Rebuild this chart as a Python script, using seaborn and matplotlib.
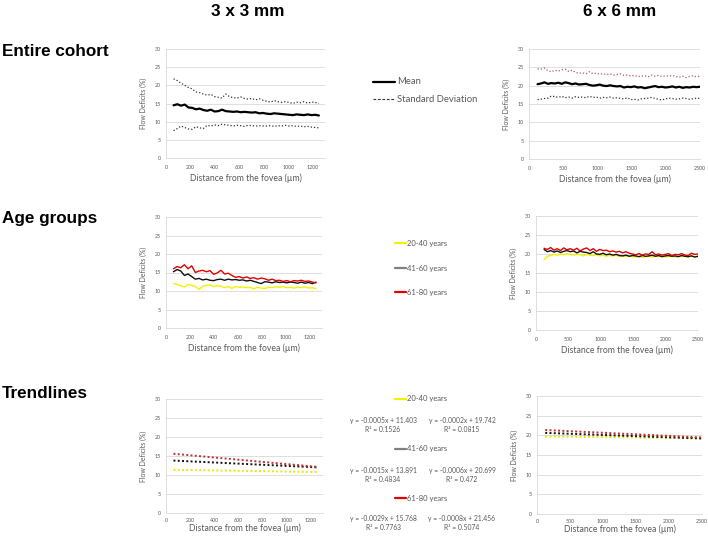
import numpy as np
import pandas as pd
import matplotlib
matplotlib.use("Agg")
import matplotlib.pyplot as plt
from matplotlib.lines import Line2D
import seaborn as sns

# ---------------- data ----------------
dist_3x3 = np.linspace(62, 1250, 40)
dist_6x6 = np.linspace(125, 2500, 48)

mean_3x3 = [14.5, 14.8, 14.4, 14.7, 13.9, 13.8, 13.4, 13.6, 13.2, 13.0, 13.3, 12.8, 12.9, 13.3, 12.9, 12.8,
            12.7, 12.8, 12.6, 12.7, 12.6, 12.5, 12.6, 12.3, 12.4, 12.2, 12.1, 12.3, 12.2, 12.1, 12.0, 11.9,
            11.8, 12.0, 11.9, 11.8, 12.0, 11.8, 11.9, 11.7]
sd_hi_3x3 = [21.8, 21.3, 20.6, 20.0, 19.4, 19.0, 18.2, 18.0, 17.6, 17.3, 17.5, 16.9, 16.7, 16.5, 17.6, 16.9,
             16.6, 16.5, 16.8, 16.4, 16.2, 16.4, 16.0, 16.3, 15.9, 15.6, 15.4, 15.8, 15.5, 15.3, 15.5, 15.3,
             15.0, 15.4, 15.2, 15.5, 15.1, 15.4, 15.3, 15.0]
sd_lo_3x3 = [7.5, 8.1, 8.8, 8.4, 8.0, 7.9, 8.6, 8.3, 8.1, 9.0, 8.8, 9.1, 8.9, 9.3, 9.1, 9.0,
             8.8, 9.0, 8.9, 8.7, 9.0, 8.9, 8.8, 8.9, 8.8, 8.8, 8.9, 8.7, 8.9, 8.8, 9.0, 8.8,
             8.9, 8.7, 8.8, 8.6, 8.7, 8.5, 8.4, 8.3]

mean_6x6 = [20.4, 20.6, 20.9, 20.5, 20.7, 20.6, 20.8, 20.5, 20.9, 20.7, 20.4, 20.6, 20.3, 20.4, 20.5, 20.2,
            20.0, 20.1, 20.3, 20.0, 19.9, 20.1, 19.9, 19.8, 19.9, 19.5, 19.7, 19.6, 19.8, 19.5, 19.6, 19.3,
            19.5, 19.7, 19.9, 19.6, 19.7, 19.5, 19.6, 19.8, 19.5, 19.7, 19.4, 19.6, 19.5, 19.7, 19.6, 19.7]
sd_hi_6x6 = [24.6, 24.5, 24.8, 24.1, 23.8, 24.2, 24.0, 24.3, 24.5, 23.9, 24.2, 23.6, 23.4, 23.5, 23.2, 23.8,
             23.3, 23.4, 23.1, 23.3, 23.0, 23.2, 22.9, 23.0, 23.2, 22.8, 22.9, 22.6, 22.8, 22.5, 22.6, 22.7,
             22.4, 22.9, 22.6, 22.8, 22.5, 22.7, 22.6, 22.8, 22.5, 22.3, 22.6, 22.2, 22.5, 22.7, 22.4, 22.6]
sd_lo_6x6 = [16.2, 16.3, 16.5, 16.6, 17.2, 17.0, 16.8, 17.1, 16.7, 16.9, 16.6, 17.0, 16.8, 16.9, 16.7, 17.1,
             16.8, 16.9, 16.6, 16.8, 16.7, 16.9, 16.6, 16.7, 16.5, 16.4, 16.7, 16.2, 16.3, 16.1, 16.4, 16.5,
             16.6, 16.8, 16.5, 16.3, 16.1, 16.4, 16.6, 16.5, 16.3, 16.4, 16.6, 16.5, 16.3, 16.4, 16.6, 16.5]

age_groups = ["20-40 years", "41-60 years", "61-80 years"]

age20_3x3 = [12.0, 11.8, 11.4, 11.1, 11.8, 11.5, 11.2, 10.4, 11.3, 11.5, 11.6, 11.2, 11.4, 11.3, 10.9, 11.2,
             10.7, 11.2, 11.0, 11.1, 10.9, 11.0, 10.6, 11.0, 10.8, 10.7, 11.0, 10.9, 11.1, 11.0, 11.2, 10.9,
             11.0, 10.8, 11.0, 10.9, 11.1, 10.8, 10.9, 10.6]
age41_3x3 = [15.2, 15.8, 15.4, 14.2, 14.6, 13.9, 13.2, 13.4, 13.0, 13.2, 12.9, 12.8, 13.1, 13.2, 12.9, 13.2,
             13.0, 13.1, 12.9, 13.0, 12.7, 12.9, 12.6, 12.3, 12.0, 12.5, 12.4, 12.2, 12.5, 12.3, 12.4, 12.2,
             12.4, 12.3, 12.1, 12.4, 12.1, 12.3, 12.0, 12.4]
age61_3x3 = [16.0, 16.6, 16.3, 17.1, 16.0, 16.8, 15.0, 15.4, 15.6, 15.2, 15.5, 14.5, 14.9, 15.6, 14.6, 14.8,
             14.2, 13.7, 13.9, 13.5, 13.8, 13.4, 13.6, 13.2, 13.5, 13.3, 12.9, 13.2, 12.8, 12.9, 12.6, 12.8,
             12.5, 12.8, 12.7, 12.9, 12.6, 12.7, 12.4, 12.2]

age20_6x6 = [18.5, 19.4, 19.6, 19.9, 19.7, 20.0, 19.8, 20.1, 19.9, 19.7, 20.0, 19.8, 19.5, 19.9, 19.7, 19.6,
             19.8, 19.5, 19.7, 19.4, 19.6, 19.5, 19.7, 19.3, 19.6, 19.4, 19.5, 19.3, 19.2, 19.4, 19.1, 19.3,
             19.4, 19.2, 19.5, 19.3, 19.4, 19.2, 19.3, 19.5, 19.2, 19.4, 19.3, 19.4, 19.2, 19.5, 19.3, 19.4]
age41_6x6 = [21.2, 20.6, 20.9, 20.5, 20.8, 20.4, 20.7, 20.9, 20.6, 20.8, 20.3, 20.7, 20.5, 20.4, 20.1, 20.6,
             20.0, 19.9, 20.2, 19.8, 20.0, 19.7, 19.9, 19.6, 19.5, 19.7, 19.4, 19.6, 19.5, 19.3, 19.6, 19.4,
             19.5, 19.7, 19.4, 19.6, 19.3, 19.5, 19.6, 19.4, 19.5, 19.3, 19.6, 19.4, 19.3, 19.5, 19.2, 19.4]
age61_6x6 = [21.5, 21.2, 21.7, 21.0, 21.4, 20.9, 21.6, 21.1, 21.4, 21.0, 21.5, 20.8, 21.3, 21.6, 20.9, 21.4,
             20.7, 21.2, 20.9, 21.0, 20.6, 20.8, 20.5, 20.7, 20.3, 20.6, 20.2, 20.0, 19.8, 20.1, 19.7, 20.0,
             19.9, 20.6, 19.8, 20.0, 19.7, 19.9, 20.1, 19.6, 19.9, 19.8, 20.1, 19.7, 19.6, 20.2, 19.9, 20.0]

# trendline equations (slope, intercept, R^2) as printed on the chart
slopes_3x3 = [-0.0005, -0.0015, -0.0029]
intercepts_3x3 = [11.403, 13.891, 15.768]
r2_3x3 = ["0.1526", "0.4834", "0.7763"]
slopes_6x6 = [-0.0002, -0.0006, -0.0008]
intercepts_6x6 = [19.742, 20.699, 21.456]
r2_6x6 = ["0.0815", "0.472", "0.5074"]

y_ticks = [0, 5, 10, 15, 20, 25, 30]
x_ticks_3x3 = [0, 200, 400, 600, 800, 1000, 1200]
x_ticks_6x6 = [0, 500, 1000, 1500, 2000, 2500]

# ---------------- style ----------------
sns.set_style("white")
plt.rcParams["font.family"] = ["Lato", "DejaVu Sans"]

W, H = 708, 536
fig = plt.figure(figsize=(W / 100, H / 100), dpi=100)

GREY_TXT = "#595959"
GRID = "#d9d9d9"
YELLOW = "#f2f200"
RED = "#e00000"
age_colors = {"20-40 years": YELLOW, "41-60 years": "#111111", "61-80 years": RED}
trend_colors = {"20-40 years": "#e8e800", "41-60 years": "#111111", "61-80 years": "#c03030"}


def px_axes(x0, y0, x1, y1):
    return fig.add_axes([x0 / W, 1 - y1 / H, (x1 - x0) / W, (y1 - y0) / H])


def style_ax(ax, xmax, xticks, xpad, lpad):
    ax.set_xlim(0, xmax)
    ax.set_ylim(0, 30)
    ax.set_yticks(y_ticks)
    ax.set_xticks(xticks)
    ax.grid(axis="y", color=GRID, lw=0.6)
    ax.grid(axis="x", visible=False)
    for s in ["top", "right"]:
        ax.spines[s].set_visible(False)
    for s in ["left", "bottom"]:
        ax.spines[s].set_color(GRID)
        ax.spines[s].set_linewidth(0.6)
    ax.tick_params(axis="y", length=0, labelsize=3.8, labelcolor=GREY_TXT, pad=4)
    ax.tick_params(axis="x", length=0, labelsize=3.8, labelcolor=GREY_TXT, pad=xpad)
    ax.set_xlabel("Distance from the fovea (µm)", fontsize=6.2, color=GREY_TXT, labelpad=lpad)
    ax.set_ylabel("Flow Deficits (%)", fontsize=5.0, color=GREY_TXT, labelpad=5)
    if ax.get_legend() is not None:
        ax.get_legend().remove()


axes = {
    (0, 0): px_axes(166, 49, 325, 158),
    (0, 1): px_axes(529, 49, 700, 159),
    (1, 0): px_axes(166, 217, 322, 328),
    (1, 1): px_axes(536, 216, 698, 330),
    (2, 0): px_axes(166, 399, 323, 513),
    (2, 1): px_axes(537, 396, 702, 514),
}

# ---- Row 1: entire cohort ----
for col, (d, m, hi, lo, hicol) in enumerate([
        (dist_3x3, mean_3x3, sd_hi_3x3, sd_lo_3x3, "#333333"),
        (dist_6x6, mean_6x6, sd_hi_6x6, sd_lo_6x6, "#b85a5a")]):
    ax = axes[(0, col)]
    df = pd.DataFrame({"dist": d, "mean": m, "hi": hi, "lo": lo})
    sns.lineplot(data=df, x="dist", y="mean", ax=ax, color="black", lw=1.6)
    sns.lineplot(data=df, x="dist", y="hi", ax=ax, color=hicol, lw=0.9, linestyle=(0, (1, 1.6)))
    sns.lineplot(data=df, x="dist", y="lo", ax=ax, color="#333333", lw=0.9, linestyle=(0, (1, 1.6)))

# ---- Row 2: age groups ----
for col, (d, vals) in enumerate([
        (dist_3x3, [age20_3x3, age41_3x3, age61_3x3]),
        (dist_6x6, [age20_6x6, age41_6x6, age61_6x6])]):
    ax = axes[(1, col)]
    df = pd.concat([pd.DataFrame({"dist": d, "fd": v, "age": g}) for g, v in zip(age_groups, vals)])
    sns.lineplot(data=df, x="dist", y="fd", hue="age", palette=age_colors, ax=ax, lw=1.0, legend=False)

# ---- Row 3: trendlines ----
for col, (d, sl, ic) in enumerate([
        (dist_3x3, slopes_3x3, intercepts_3x3),
        (dist_6x6, slopes_6x6, intercepts_6x6)]):
    ax = axes[(2, col)]
    ends = np.array([d[0], d[-1]])
    df = pd.concat([pd.DataFrame({"dist": ends, "fd": s * ends + b, "age": g})
                    for g, s, b in zip(age_groups, sl, ic)])
    for g in age_groups:
        sub = df[df.age == g]
        sns.lineplot(data=sub, x="dist", y="fd", ax=ax, color=trend_colors[g],
                     lw=1.4, linestyle=(0, (1, 1.2)))

for (r, c), ax in axes.items():
    xpad, lpad = (5, 2.5) if r < 2 else (3.5, 0.5)
    if c == 0:
        style_ax(ax, 1300, x_ticks_3x3, xpad, lpad)
    else:
        style_ax(ax, 2500, x_ticks_6x6, xpad, lpad)

# ---------------- titles ----------------
title_kw = dict(fontsize=12.3, fontweight="bold", family=["Liberation Sans", "DejaVu Sans"], color="black")
fig.text(248 / W, 1 - 12 / H, "3 x 3 mm", ha="center", va="center", **title_kw)
fig.text(620 / W, 1 - 12 / H, "6 x 6 mm", ha="center", va="center", **title_kw)
fig.text(2 / W, 1 - 51 / H, "Entire cohort", ha="left", va="center", **title_kw)
fig.text(2 / W, 1 - 219 / H, "Age groups", ha="left", va="center", **title_kw)
fig.text(2 / W, 1 - 394 / H, "Trendlines", ha="left", va="center", **title_kw)

# ---------------- middle legends ----------------
def fig_line(x0, x1, y, color, lw=1.5, ls="-"):
    fig.add_artist(Line2D([x0 / W, x1 / W], [1 - y / H, 1 - y / H], color=color, lw=lw, linestyle=ls))


def fig_txt(x, y, s, ha="left", size=6.3):
    fig.text(x / W, 1 - y / H, s, ha=ha, va="center", fontsize=size, color=GREY_TXT)


fig_line(373, 395, 82, "black", lw=1.6)
fig_txt(397, 82, "Mean", size=6.8)
fig_line(373, 395, 99, "#333333", lw=0.8, ls=(0, (2.5, 1.5)))
fig_txt(397, 99, "Standard Deviation", size=6.8)

legend_cols = [YELLOW, "#7f7f7f", RED]
for g, cl, y in zip(age_groups, legend_cols, [243, 268, 292]):
    fig_line(395, 406, y, cl, lw=1.6)
    fig_txt(407, y, g, size=5.5)

for i, (g, cl, y) in enumerate(zip(age_groups, legend_cols, [399, 449, 498])):
    fig_line(395, 406, y, cl, lw=1.6)
    fig_txt(407, y, g, size=5.5)
    ye = y + 21
    fig_txt(383, ye, f"y = {slopes_3x3[i]:.4f}x + {intercepts_3x3[i]:.3f}", ha="center", size=4.9)
    fig_txt(383, ye + 9, f"R² = {r2_3x3[i]}", ha="center", size=4.9)
    fig_txt(462, ye, f"y = {slopes_6x6[i]:.4f}x + {intercepts_6x6[i]:.3f}", ha="center", size=4.9)
    fig_txt(462, ye + 9, f"R² = {r2_6x6[i]}", ha="center", size=4.9)

fig.savefig("out.png", dpi=100)
